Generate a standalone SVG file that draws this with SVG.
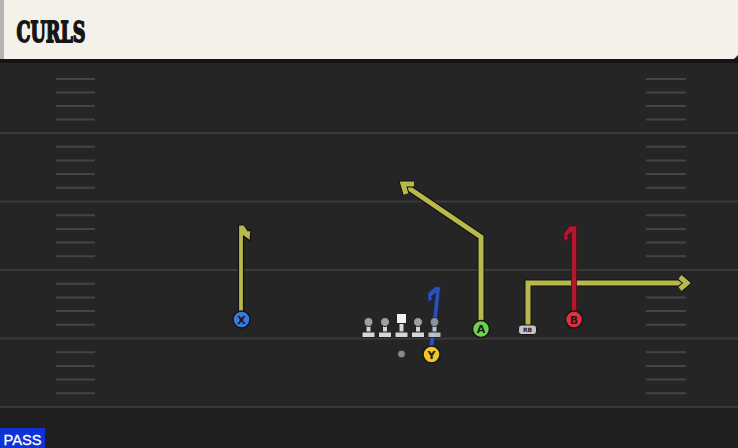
<svg xmlns="http://www.w3.org/2000/svg" width="738" height="448" viewBox="0 0 738 448">
<style>
.yard{stroke:#3a3a3a;stroke-width:2}
.hash{stroke:#444;stroke-width:2}
.out{fill:none;stroke:#111;stroke-width:7;stroke-linejoin:miter;stroke-linecap:butt}
.rt{fill:none;stroke-width:5;stroke-linejoin:miter;stroke-linecap:butt}
.yel{stroke:#b9b84b}
.red{stroke:#b2182e}
.blu{stroke:#2d52b3}
.lbl{font-family:"DejaVu Sans","Liberation Sans",sans-serif;font-size:11px;font-weight:bold;fill:#1a1a1a;text-anchor:middle}
.pc{stroke:#151515;stroke-width:1.5}
.lm{fill:#d6d6d6;stroke:#222;stroke-width:1}
.lh{fill:#a0a0a0;stroke:#222;stroke-width:1}
</style>
<defs>
<g id="lineman">
<rect x="-2.5" y="0" width="5" height="11" class="lm"/>
<rect x="-6.5" y="10" width="13" height="5.5" class="lm"/>
<circle cx="0" cy="0" r="4.5" class="lh"/>
</g>
</defs>
<rect x="0" y="0" width="738" height="448" fill="#252525"/>
<rect x="0" y="407" width="738" height="41" fill="#1f1f1f"/>
<g id="header">
<rect x="0" y="58" width="738" height="5" fill="#141414"/>
<path d="M0,0 H738 V55 L734,59 H0 Z" fill="#f4f1ea"/>
<rect x="0" y="0" width="4" height="59" fill="#b4b4b4"/>
<text x="16.5" y="42" font-family="'DejaVu Serif','Liberation Serif',serif" font-weight="bold" font-size="28" textLength="69" lengthAdjust="spacingAndGlyphs" fill="#151515" stroke="#151515" stroke-width="1.8" stroke-linejoin="round">CURLS</text>
</g>
<g id="field">
<line class="yard" x1="0" y1="133" x2="738" y2="133"/>
<line class="yard" x1="0" y1="201.5" x2="738" y2="201.5"/>
<line class="yard" x1="0" y1="270" x2="738" y2="270"/>
<line class="yard" x1="0" y1="338.5" x2="738" y2="338.5"/>
<line class="yard" x1="0" y1="407" x2="738" y2="407"/>
<g id="hashes">
<path class="hash" d="M56,79 H95 M56,92.5 H95 M56,106 H95 M56,119.5 H95 M56,146.7 H95 M56,160.4 H95 M56,174.1 H95 M56,187.8 H95 M56,215.2 H95 M56,228.9 H95 M56,242.6 H95 M56,256.3 H95 M56,283.7 H95 M56,297.4 H95 M56,311.1 H95 M56,324.8 H95 M56,352.2 H95 M56,365.9 H95 M56,379.6 H95 M56,393.3 H95"/>
<path class="hash" d="M646,79 H686 M646,92.5 H686 M646,106 H686 M646,119.5 H686 M646,146.7 H686 M646,160.4 H686 M646,174.1 H686 M646,187.8 H686 M646,215.2 H686 M646,228.9 H686 M646,242.6 H686 M646,256.3 H686 M646,283.7 H686 M646,297.4 H686 M646,311.1 H686 M646,324.8 H686 M646,352.2 H686 M646,365.9 H686 M646,379.6 H686 M646,393.3 H686"/>
</g>
</g>
<g id="connectors">
<!-- X curl -->
<path d="M238.5,318 V225 L244,225 L248,231 L251,230 L250,241 L243.5,236 L243.5,318 Z" fill="#b9b84b" stroke="#111" stroke-width="1.2" stroke-linejoin="round"/>
<!-- A corner -->
<path class="out" d="M481,322 V237 L405,185.5"/>
<path class="rt yel" d="M481,322 V237 L405,185.5"/>
<path class="out" d="M406,194 L403,184 L414,184"/>
<path class="rt yel" d="M406,194 L403,184 L414,184"/>
<!-- RB out -->
<path class="out" d="M528,325 V283 H686"/>
<path class="rt yel" d="M528,325 V283 H686"/>
<path class="out" d="M680,277 L687,283 L680,289"/>
<path class="rt yel" d="M680,277 L687,283 L680,289"/>
<!-- B curl -->
<path d="M571.5,312 V232 L567,236 L569,238 L564,242 L564,233 L570,226 L576.5,226 V312 Z" fill="#b2182e" stroke="#5a0a14" stroke-width="0.8" stroke-linejoin="round"/>
<!-- Y curl -->
<path d="M429,347 L432,325 L435.5,293 L431,297 L433,299 L428,302 L428,293 L435.5,286.5 L440.5,287 L436.5,325 L433.5,347 Z" fill="#2d52b3" stroke="#14275a" stroke-width="0.8" stroke-linejoin="round"/>
</g>
<g id="oline">
<use href="#lineman" x="368.5" y="322"/>
<use href="#lineman" x="385" y="322"/>
<g id="center">
<rect x="399" y="320" width="5" height="13" class="lm"/>
<rect x="395" y="332" width="13" height="5.5" class="lm"/>
<rect x="396.5" y="313.5" width="10" height="10" fill="#f2f2f2" stroke="#222" stroke-width="1"/>
</g>
<use href="#lineman" x="418" y="322"/>
<g opacity="0.85"><use href="#lineman" x="434.5" y="322"/></g>
</g>
<g id="ball"><circle cx="401.5" cy="354" r="4" fill="#8a8a8a" stroke="#222" stroke-width="1"/></g>
<g id="X"><circle cx="241.5" cy="319.5" r="8.5" fill="#3b78de" class="pc"/><text x="241.5" y="323.5" class="lbl">X</text></g>
<g id="A"><circle cx="481" cy="329" r="8.5" fill="#6fd04e" class="pc"/><text x="481" y="333" class="lbl">A</text></g>
<g id="B"><circle cx="574" cy="319.5" r="8.5" fill="#e3303f" class="pc"/><text x="574" y="323.5" class="lbl">B</text></g>
<g id="Y"><circle cx="431.5" cy="354.5" r="8.5" fill="#f2c623" class="pc"/><text x="431.5" y="358.5" class="lbl">Y</text></g>
<g id="RB"><rect x="518.5" y="325" width="18" height="9.5" rx="3" fill="#c4c4c4" stroke="#151515" stroke-width="1"/><text x="527.5" y="332.3" font-family="'DejaVu Sans','Liberation Sans',sans-serif" font-size="6" font-weight="bold" fill="#222" text-anchor="middle">RB</text></g>
<g id="pass"><rect x="0" y="428" width="45" height="20" fill="#0f32d8"/><text x="22.5" y="444.5" font-family="'Liberation Sans',Arial,sans-serif" font-size="15" fill="#ffffff" stroke="#ffffff" stroke-width="0.3" text-anchor="middle" textLength="38" lengthAdjust="spacingAndGlyphs">PASS</text></g>
</svg>
